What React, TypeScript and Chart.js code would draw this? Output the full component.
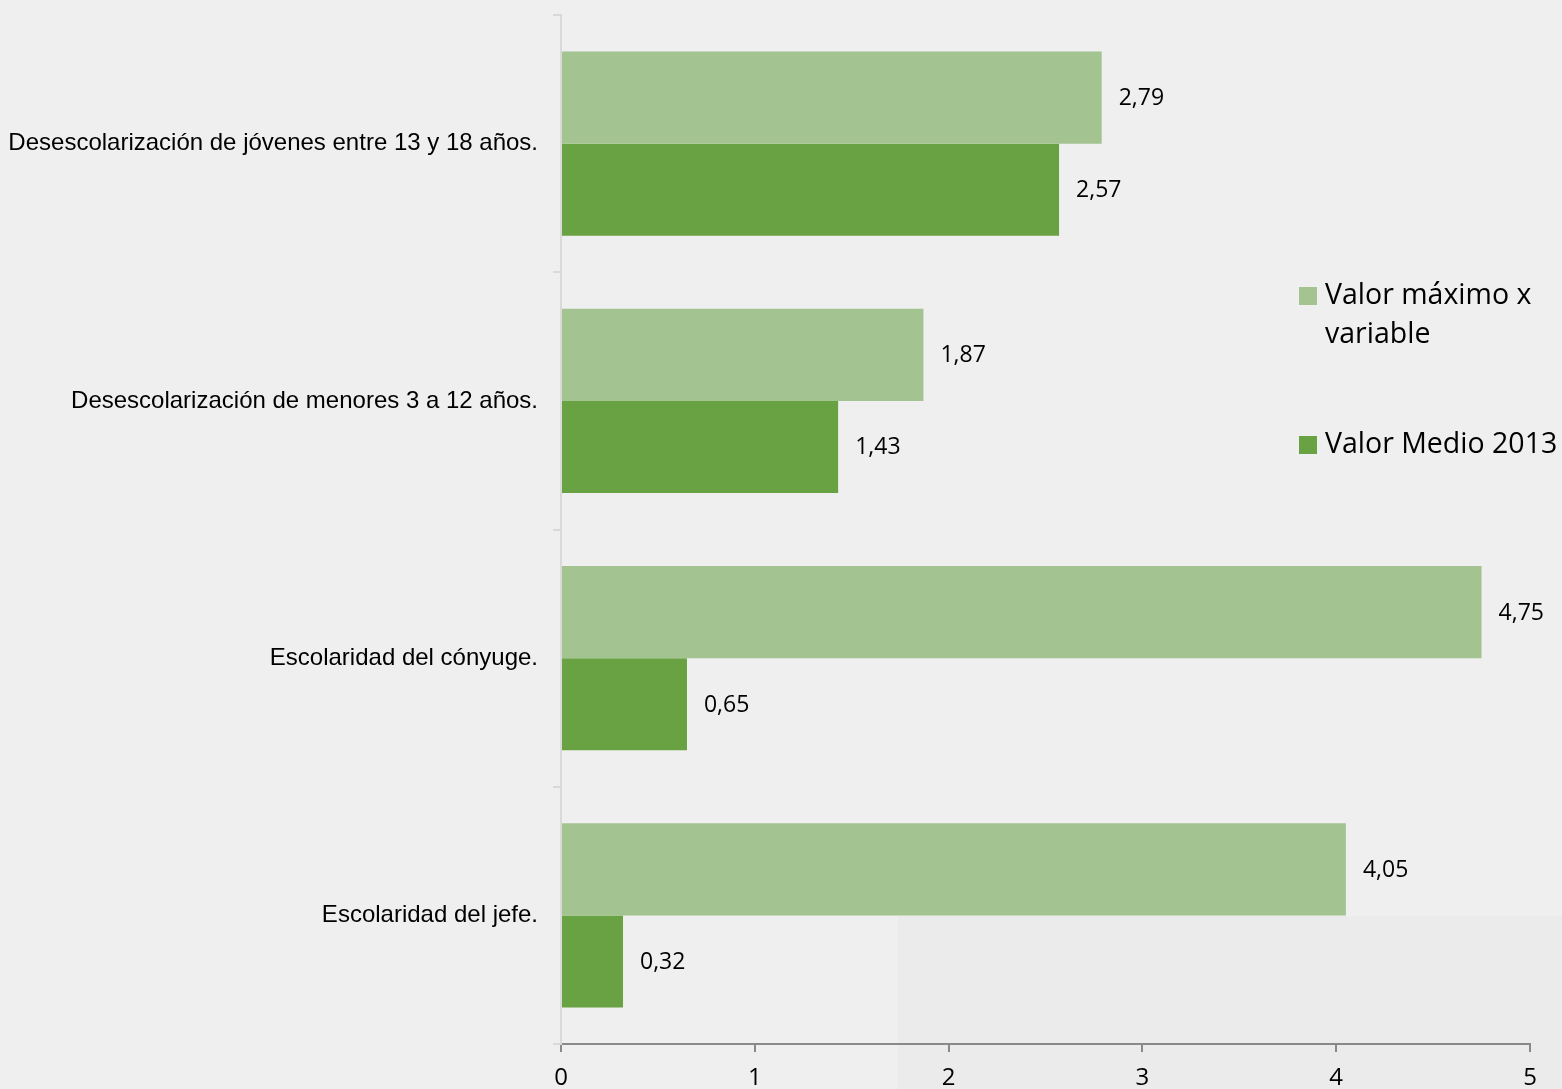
import React, { useEffect, useRef } from "react";
import { Chart, registerables } from "chart.js";

Chart.register(...registerables);

const categories = [
  "Desescolarización de jóvenes entre 13 y 18 años.",
  "Desescolarización de menores 3 a 12 años.",
  "Escolaridad del cónyuge.",
  "Escolaridad del jefe.",
];
const valorMaximo = [2.79, 1.87, 4.75, 4.05];
const valorMedio = [2.57, 1.43, 0.65, 0.32];
const seriesNames = ["Valor máximo x variable", "Valor Medio 2013"];
const legendLines = [["Valor máximo x", "variable"], ["Valor Medio 2013"]];
const xTicks = [0, 1, 2, 3, 4, 5];
const colors = ["#a3c491", "#69a242"];

const W = 1562;
const H = 1089;

export default function App() {
  const ref = useRef<HTMLCanvasElement | null>(null);

  useEffect(() => {
    document.body.style.margin = "0";
    const canvas = ref.current!;
    const bgPlugin = {
      id: "bg",
      beforeDraw(chart: any) {
        const c = chart.ctx;
        c.save();
        c.fillStyle = "#efefef";
        c.fillRect(0, 0, chart.width, chart.height);
        c.fillStyle = "#ebebeb";
        c.fillRect(898, 916, chart.width - 898, chart.height - 916);
        c.restore();
      },
    };
    const labelsPlugin = {
      id: "vals",
      afterDatasetsDraw(chart: any) {
        const c = chart.ctx;
        c.save();
        c.font = "23px 'Open Sans'";
        c.fillStyle = "#000";
        c.textAlign = "left";
        c.textBaseline = "middle";
        chart.data.datasets.forEach((ds: any, di: number) => {
          const meta = chart.getDatasetMeta(di);
          meta.data.forEach((bar: any, i: number) => {
            const v = ds.data[i] as number;
            c.fillText(v.toFixed(2).replace(".", ","), bar.x + 17, bar.y + 1);
          });
        });
        c.restore();
      },
    };
    const legendPlugin = {
      id: "customLegend",
      afterDraw(chart: any) {
        const c = chart.ctx;
        c.save();
        c.font = "28.5px 'Open Sans'";
        c.fillStyle = "#000";
        c.textAlign = "left";
        c.textBaseline = "middle";
        const tops = [296, 445];
        legendLines.forEach((lines, i) => {
          c.fillStyle = colors[i];
          c.fillRect(1299, tops[i] - 9, 18, 18);
          c.fillStyle = "#000";
          lines.forEach((ln, j) => {
            c.fillText(ln, 1325, tops[i] + j * 39);
          });
        });
        c.restore();
      },
    };

    const chart = new Chart(canvas, {
      type: "bar",
      data: {
        labels: categories,
        datasets: [
          {
            label: seriesNames[0],
            data: valorMaximo,
            backgroundColor: colors[0],
            categoryPercentage: 0.716,
            barPercentage: 1,
          },
          {
            label: seriesNames[1],
            data: valorMedio,
            backgroundColor: colors[1],
            categoryPercentage: 0.716,
            barPercentage: 1,
          },
        ],
      },
      options: {
        indexAxis: "y",
        animation: false,
        responsive: false,
        maintainAspectRatio: false,
        layout: { padding: { top: 15, right: 32, left: 0, bottom: 0 } },
        plugins: {
          legend: { display: false },
          tooltip: { enabled: false },
        },
        scales: {
          x: {
            type: "linear",
            min: 0,
            max: 5,
            afterBuildTicks(scale: any) {
              scale.ticks = xTicks.map((v) => ({ value: v }));
            },
            afterFit(scale: any) {
              scale.height = 45;
              scale.paddingLeft = 0;
              scale.paddingRight = 0;
            },
            border: { display: true, color: "#898989", width: 2 },
            grid: {
              drawOnChartArea: false,
              drawTicks: true,
              tickLength: 8,
              color: "#898989",
              lineWidth: 2,
            },
            ticks: {
              color: "#000",
              font: { family: "'Open Sans'", size: 24 },
              padding: 12,
              callback: (v: any) => String(v),
            },
          },
          y: {
            type: "category",
            afterFit(scale: any) {
              scale.width = 561;
              scale.paddingTop = 0;
              scale.paddingBottom = 0;
            },
            border: { display: true, color: "#d9d9d9", width: 2 },
            grid: {
              drawOnChartArea: false,
              drawTicks: true,
              tickLength: 8,
              color: "#d9d9d9",
              lineWidth: 2,
              offset: true,
            },
            ticks: {
              color: "#000",
              font: { family: "'Liberation Sans'", size: 24 },
              padding: 15,
            },
          },
        },
      },
      plugins: [bgPlugin, labelsPlugin, legendPlugin],
    });
    return () => chart.destroy();
  }, []);

  return (
    <div style={{ width: W, height: H, background: "#efefef" }}>
      <canvas ref={ref} width={W} height={H} style={{ display: "block" }} />
    </div>
  );
}
